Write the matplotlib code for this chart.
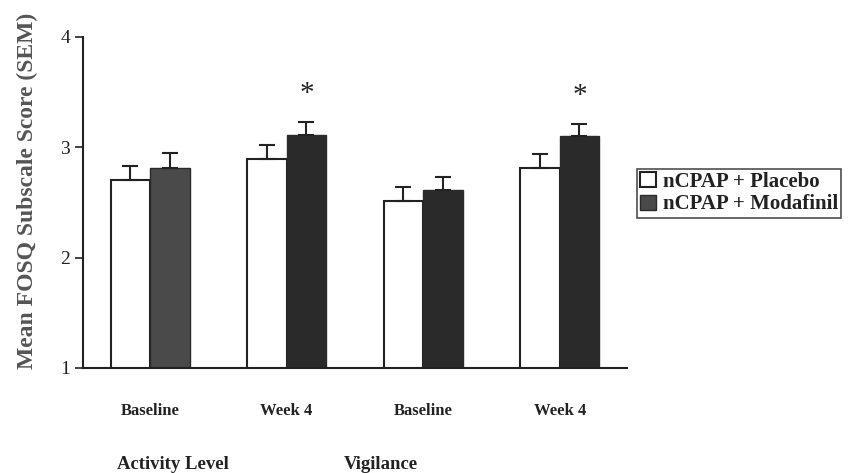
import numpy as np
import matplotlib.pyplot as plt

timepoints = ["Baseline", "Week 4", "Baseline", "Week 4"]
domains = ["Activity Level", "Vigilance"]
placebo = [2.70, 2.89, 2.51, 2.81]
placebo_sem = [0.13, 0.13, 0.13, 0.13]
modafinil = [2.81, 3.11, 2.61, 3.10]
modafinil_sem = [0.14, 0.12, 0.12, 0.11]
significant = [False, True, False, True]

plt.rcParams['font.family'] = ['Liberation Serif', 'DejaVu Serif']

fig = plt.figure(figsize=(8.49, 4.73), dpi=100)
ax = fig.add_axes([0.098, 0.222, 0.64, 0.70])

x = np.arange(len(timepoints))
w = 0.29
ink = '#222222'
mod_colors = ['#4a4a4a', '#2a2a2a', '#2a2a2a', '#2a2a2a']

ax.bar(x - w / 2, placebo, w, color='white', edgecolor=ink, linewidth=1.5,
       label='nCPAP + Placebo')
ax.bar(x + w / 2, modafinil, w, color=mod_colors, edgecolor=['#2a2a2a'] * 4, linewidth=1.0,
       label='nCPAP + Modafinil')
ax.errorbar(x - w / 2, placebo, yerr=[np.zeros(4), placebo_sem], fmt='none',
            ecolor=ink, elinewidth=1.5, capsize=6, capthick=1.5)
ax.errorbar(x + w / 2, modafinil, yerr=[np.zeros(4), modafinil_sem], fmt='none',
            ecolor=ink, elinewidth=1.5, capsize=6, capthick=1.5)

for i, s in enumerate(significant):
    if s:
        ax.text(x[i] + w / 2, modafinil[i] + modafinil_sem[i] + 0.25, '*', ha='center',
                va='center', fontsize=21, color=ink)

ax.set_xlim(-0.49, 3.49)
ax.set_ylim(1, 4)
ax.set_yticks([1, 2, 3, 4])
ax.set_xticks(x)
ax.set_xticklabels(timepoints, fontsize=12, fontweight='bold', color=ink)
ax.tick_params(axis='x', length=0, pad=25)
ax.tick_params(axis='y', labelsize=14, colors=ink, length=6, width=1.2, direction='out')
for s in ['top', 'right']:
    ax.spines[s].set_visible(False)
for s in ['left', 'bottom']:
    ax.spines[s].set_linewidth(1.5)
    ax.spines[s].set_color(ink)

ax.set_ylabel('Mean FOSQ Subscale Score (SEM)', fontsize=17, fontweight='bold',
              color='#555555')
ax.yaxis.set_label_coords(-0.083, 0.535)

fig.text(0.204, 0.008, domains[0], fontsize=13.5, fontweight='bold', ha='center', color=ink)
fig.text(0.448, 0.008, domains[1], fontsize=13.5, fontweight='bold', ha='center', color=ink)

leg = fig.legend(loc='upper left', bbox_to_anchor=(0.75, 0.643), frameon=True,
                 fancybox=False, edgecolor=ink, fontsize=15, handlelength=0.75,
                 handleheight=0.75, handletextpad=0.35, borderpad=0.15, labelspacing=0.12,
                 borderaxespad=0)
leg.get_frame().set_linewidth(1.2)
for t in leg.get_texts():
    t.set_fontweight('bold')
    t.set_color(ink)

fig.savefig('out.png', dpi=100)
